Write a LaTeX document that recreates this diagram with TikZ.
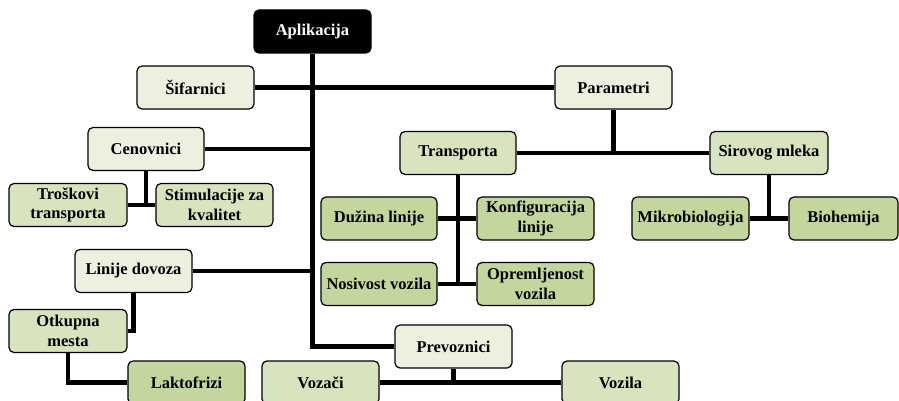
\documentclass[tikz,border=0pt]{standalone}
\usepackage{fontspec}
\setmainfont{Liberation Serif}
\definecolor{lvlone}{HTML}{EBF1DE}
\definecolor{lvltwo}{HTML}{D7E4BD}
\definecolor{lvlthree}{HTML}{C3D69B}
\begin{document}
\begin{tikzpicture}[x=1pt,y=-1pt,
  box/.style={draw=black, line width=1.2pt, rounded corners=5pt,
    minimum width=117pt, minimum height=43pt, inner sep=1pt,
    align=center, font=\fontsize{16.5}{19.5}\selectfont\bfseries},
  root/.style={box, fill=black, text=white},
  one/.style={box, fill=lvlone},
  two/.style={box, fill=lvltwo},
  three/.style={box, fill=lvlthree},
  link/.style={line width=4.6pt, black}]
\useasboundingbox (0,0) rectangle (899,401);
\clip (0,0) rectangle (899,401);

% top of the tree
\node[root] (app) at (312.5,31.5) {Aplikacija};
\node[one] (sif) at (195.5,87.5) {Šifarnici};
\node[one] (par) at (613.5,87.5) {Parametri};
\node[one, minimum width=116pt] (cen) at (146,149) {Cenovnici};
\node[one] (lin) at (133.5,271) {Linije dovoza};
\node[one] (prev) at (453.5,346.5) {Prevoznici};

% price lists
\node[two, minimum width=118pt] (trk) at (68,205) {Troškovi\\transporta};
\node[two] (stim) at (214.5,205) {Stimulacije za\\kvalitet};

% parameters
\node[two, minimum width=116pt] (trans) at (458,153) {Transporta};
\node[two, minimum width=118pt] (sir) at (769,153) {Sirovog mleka};
\node[three, minimum width=116pt] (duz) at (379,218.5) {Dužina linije};
\node[three] (konf) at (535.5,218.5) {Konfiguracija\\linije};
\node[three, minimum width=116pt] (nos) at (379,284) {Nosivost vozila};
\node[three] (opr) at (535.5,284) {Opremljenost\\vozila};
\node[three] (mik) at (690.5,218.5) {Mikrobiologija};
\node[three, minimum width=109pt] (bio) at (843.5,218.5) {Biohemija};

% collection lines
\node[two, minimum width=118pt] (otk) at (68,331) {Otkupna\\mesta};
\node[three] (lak) at (186.5,382.5) {Laktofrizi};

% carriers
\node[two] (voz) at (320.5,382.5) {Vozači};
\node[two] (vozila) at (620.5,382.5) {Vozila};

% connectors
\begin{scope}[link]
  \draw (app.south) |- (prev.west);
  \draw (sif.east) -- (par.west);
  \draw (cen.east) -- (cen.east -| app.south);
  \draw (lin.east) -- (lin.east -| app.south);
  \draw (cen.south) -- (cen.south |- trk.east);
  \draw (trk.east) -- (stim.west);
  \draw (par.south) -- (par.south |- trans.east);
  \draw (trans.east) -- (sir.west);
  \draw (trans.south) -- (trans.south |- nos.east);
  \draw (duz.east) -- (konf.west);
  \draw (nos.east) -- (opr.west);
  \draw (sir.south) -- (sir.south |- mik.east);
  \draw (mik.east) -- (bio.west);
  \draw (lin.south) |- (otk.east);
  \draw (otk.south) |- (lak.west);
  \draw (prev.south) -- (prev.south |- voz.east);
  \draw (voz.east) -- (vozila.west);
\end{scope}
\end{tikzpicture}
\end{document}
